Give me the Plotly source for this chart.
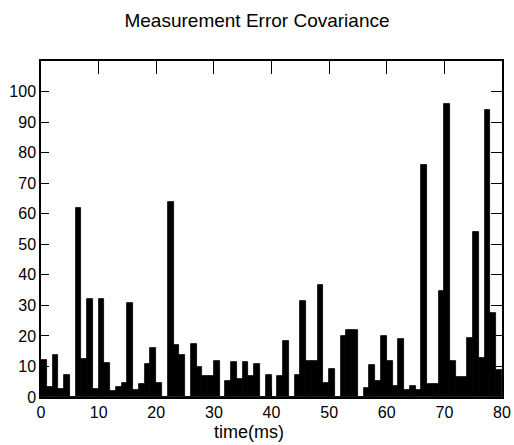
import plotly.graph_objects as go

# time bins (ms) - each bar spans [t, t+1]
time_ms = list(range(80))

covariance = [
    12, 3.3, 13.7, 2.6, 7.1, 0, 62, 12.6, 32, 2.7,
    32, 11, 1.9, 3.4, 4.6, 30.8, 2.4, 4.1, 10.8, 15.9,
    4.6, 0, 64, 17, 13.7, 0, 17.4, 9.7, 7.0, 7.0,
    11.7, 0, 5.1, 11.4, 6.0, 11.4, 7.0, 10.9, 0, 7.3,
    0, 7.0, 18.3, 0, 7.3, 31.4, 11.9, 11.9, 36.8, 4.6,
    9.2, 0, 19.9, 21.8, 21.8, 0, 3.0, 10.4, 5.4, 20.1,
    11.7, 3.7, 19.0, 2.4, 3.5, 2.4, 76, 4.3, 4.3, 34.7,
    96, 11.7, 6.5, 6.5, 19.3, 54, 12.8, 94, 27.5, 9.0,
]

x_ticks = [0, 10, 20, 30, 40, 50, 60, 70, 80]
y_ticks = [0, 10, 20, 30, 40, 50, 60, 70, 80, 90, 100]

title_text = "Measurement Error Covariance"
x_title = "time(ms)"

FONT = "Liberation Sans, Arial, sans-serif"

fig = go.Figure()
fig.add_trace(go.Bar(
    x=time_ms, y=covariance, width=1, offset=0,
    marker=dict(color="black", line=dict(color="black", width=0.8)),
    showlegend=False, hoverinfo="x+y",
))
# empty trace to activate the mirrored top/right axes
fig.add_trace(go.Scatter(x=[], y=[], xaxis="x2", yaxis="y2", showlegend=False))

axis_common = dict(showline=True, linecolor="black", linewidth=1.5,
                   showgrid=False, zeroline=False, ticks="inside",
                   tickcolor="black", tickwidth=1.3, automargin=False)

fig.update_layout(
    width=514, height=445,
    margin=dict(l=41, r=12, t=61, b=48),
    paper_bgcolor="white", plot_bgcolor="white",
    bargap=0,
    font=dict(family=FONT, size=16, color="black"),
    title=dict(text=title_text, x=0.5, xref="container", xanchor="center",
               y=1 - 20 / 445, yref="container", yanchor="middle",
               font=dict(family=FONT, size=19, color="black")),
    xaxis=dict(range=[0, 80], tickvals=x_ticks, ticklen=8, **axis_common),
    yaxis=dict(range=[0, 110], tickvals=y_ticks, ticklen=8, **axis_common),
    xaxis2=dict(range=[0, 80], tickvals=x_ticks, ticklen=13, overlaying="x",
                side="top", anchor="y", showticklabels=False, **axis_common),
    yaxis2=dict(range=[0, 110], tickvals=y_ticks, ticklen=11, overlaying="y",
                side="right", anchor="x", showticklabels=False, **axis_common),
    annotations=[dict(text=x_title, xref="paper", yref="paper",
                      x=0.451, y=-0.104, xanchor="center", yanchor="middle",
                      showarrow=False, borderpad=0,
                      font=dict(family=FONT, size=18, color="black"))],
)

fig.write_html(
    "out.html",
    config={"displayModeBar": False},
    post_script="document.body.style.margin='0';document.body.style.overflow='hidden';",
)
